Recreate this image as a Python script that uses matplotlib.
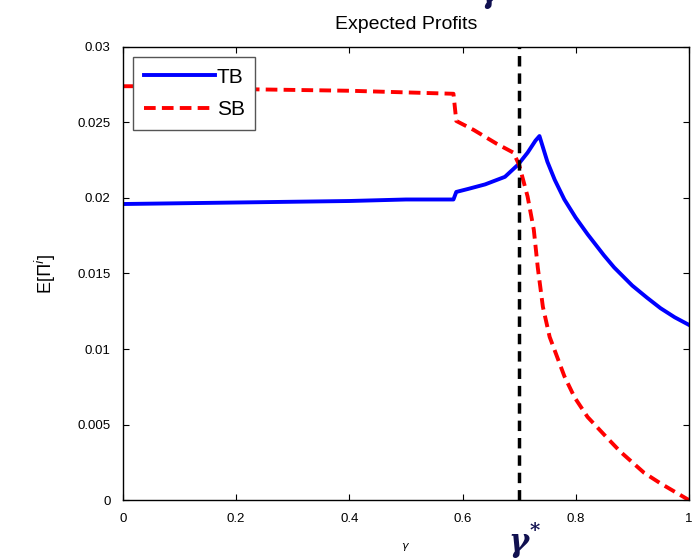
import matplotlib
matplotlib.use("Agg")
import matplotlib.pyplot as plt

plt.rcParams['font.family'] = ['Liberation Sans Narrow', 'Liberation Sans', 'DejaVu Sans']

# values
tb_x = [0.0, 0.2, 0.4, 0.5, 0.584, 0.589, 0.61, 0.64, 0.675, 0.698, 0.715, 0.729, 0.736,
        0.75, 0.763, 0.78, 0.80, 0.821, 0.85, 0.868, 0.90, 0.926, 0.95, 0.975, 1.0]
tb_y = [0.0196, 0.0197, 0.0198, 0.0199, 0.0199, 0.0204, 0.0206, 0.0209, 0.0214, 0.0222,
        0.0230, 0.0238, 0.0241, 0.0224, 0.0212, 0.0199, 0.0187, 0.0176, 0.0162, 0.0154,
        0.0142, 0.0134, 0.0127, 0.0121, 0.0116]

sb_x = [0.0, 0.2, 0.22, 0.4, 0.584, 0.589, 0.62, 0.66, 0.69, 0.70, 0.715, 0.726, 0.733,
        0.742, 0.754, 0.763, 0.78, 0.798, 0.821, 0.856, 0.879, 0.921, 0.95, 1.0]
sb_y = [0.0274, 0.0274, 0.0272, 0.0271, 0.0269, 0.0251, 0.0245, 0.0236, 0.0230, 0.0222,
        0.0201, 0.0179, 0.0154, 0.0128, 0.0108, 0.0099, 0.0082, 0.0068, 0.0055, 0.0041,
        0.0032, 0.0018, 0.0011, 0.0]

gamma_star = 0.7
xticks = [0, 0.2, 0.4, 0.6, 0.8, 1]
xlabels = ['0', '0.2', '0.4', '0.6', '0.8', '1']
yticks = [0, 0.005, 0.01, 0.015, 0.02, 0.025, 0.03]
ylabels = ['0', '0.005', '0.01', '0.015', '0.02', '0.025', '0.03']

fig = plt.figure(figsize=(6.93, 5.59), dpi=100)
ax = fig.add_axes([0.1775, 0.1055, 0.8165, 0.8105])

ax.plot(tb_x, tb_y, color='#0000ff', lw=2.8, label='TB')
ax.plot(sb_x, sb_y, color='#ff0000', lw=2.8, ls=(0, (3, 1.6)), label='SB')
ax.axvline(gamma_star, color='black', lw=2.5, ls=(0, (3, 2)))

ax.set_xlim(0, 1)
ax.set_ylim(0, 0.03)
ax.set_xticks(xticks)
ax.set_xticklabels(xlabels)
ax.set_yticks(yticks)
ax.set_yticklabels(ylabels)
ax.tick_params(direction='in', top=True, right=True, labelsize=9.5, length=4, pad=9)
for s in ax.spines.values():
    s.set_linewidth(1.0)

ax.set_title('Expected Profits', fontsize=14, pad=13)
ax.set_ylabel('E[$\\Pi^i$]', fontsize=13, labelpad=14)
ax.set_xlabel('$\\gamma$', fontsize=8, labelpad=12)

leg = ax.legend(loc='upper left', fontsize=15, handlelength=3.4, frameon=True, fancybox=False,
                edgecolor='#555555', framealpha=1, borderaxespad=0.5, handletextpad=0.1,
                borderpad=0.5, labelspacing=0.65)
leg.get_frame().set_linewidth(1.0)

# slide annotations
fig.text(0.748, 0.03, 'γ', color='#101050', fontsize=22, fontweight='bold',
         style='italic', family='DejaVu Serif', ha='center', va='center')
fig.text(0.771, 0.05, '*', color='#101050', fontsize=14, fontweight='bold',
         family='DejaVu Serif', ha='center', va='center')
fig.text(0.708, 1.012, 'γ', color='#101050', fontsize=22, fontweight='bold',
         style='italic', family='DejaVu Serif', ha='center', va='center')

fig.savefig('out.png', dpi=100)
